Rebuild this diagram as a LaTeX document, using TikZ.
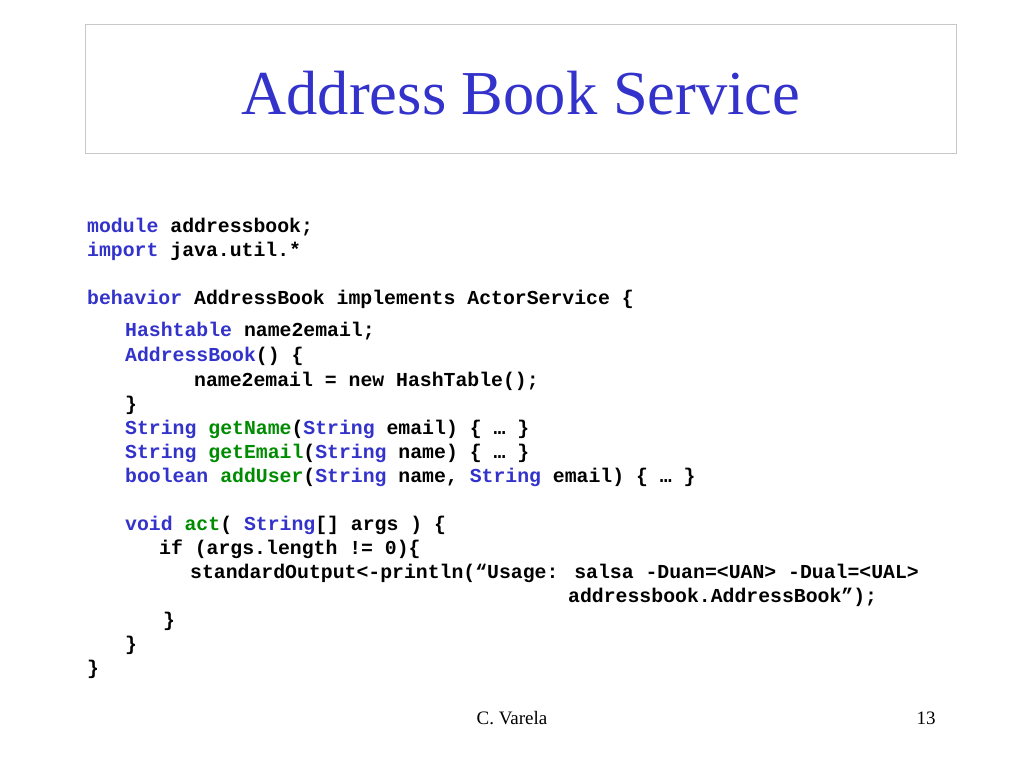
\documentclass[tikz,border=0pt]{standalone}
\usepackage{fontspec}
\setmainfont{Liberation Serif}
\newfontfamily\codefont{Liberation Mono}
\definecolor{kw}{RGB}{51,51,204}
\definecolor{gr}{RGB}{0,140,0}
\definecolor{boxgray}{RGB}{200,200,200}
\newcommand{\K}[1]{\textcolor{kw}{#1}}
\newcommand{\G}[1]{\textcolor{gr}{#1}}
\begin{document}
\begin{tikzpicture}[x=1pt,y=-1pt,
  code/.style={anchor=base west,inner sep=0pt,font=\codefont\bfseries\fontsize{19.8}{24}\selectfont}]
\useasboundingbox (0,0) rectangle (1024,768);
\fill[white] (0,0) rectangle (1024,768);
\draw[boxgray,line width=1pt] (85,25) rectangle (956,153);
\node[text=kw,font=\fontsize{62.5}{68}\selectfont,inner sep=0pt] (title) at (521,93) {Address Book Service};
\node[code] (l1) at (87,232) {\K{module} addressbook;};
\node[code] (l2) at (87,256) {\K{import} java.util.*};
\node[code] (l3) at (87,304) {\K{behavior} AddressBook implements ActorService \{};
\node[code] (l4) at (125,336) {\K{Hashtable} name2email;};
\node[code] (l5) at (125,361) {\K{AddressBook}() \{};
\node[code] (l6) at (194,386) {name2email = new HashTable();};
\node[code] (l7) at (125,410) {\}};
\node[code] (l8) at (125,434) {\K{String} \G{getName}(\K{String} email) \{ … \}};
\node[code] (l9) at (125,458) {\K{String} \G{getEmail}(\K{String} name) \{ … \}};
\node[code] (l10) at (125,482) {\K{boolean} \G{addUser}(\K{String} name, \K{String} email) \{ … \}};
\node[code] (l11) at (125,530) {\K{void} \G{act}( \K{String}[] args ) \{};
\node[code] (l12) at (159,554) {if (args.length != 0)\{};
\node[code] (l13) at (190,578) {standardOutput<-println(“Usage: salsa -Duan=<UAN> -Dual=<UAL>};
\node[code] (l14) at (568,602) {addressbook.AddressBook”);};
\node[code] (l15) at (163,626) {\}};
\node[code] (l16) at (125,650) {\}};
\node[code] (l17) at (87,674) {\}};
\node[font=\fontsize{19}{22}\selectfont,inner sep=0pt] (author) at (512,718) {C. Varela};
\node[font=\fontsize{19}{22}\selectfont,inner sep=0pt] (page) at (926,718) {13};
\end{tikzpicture}
\end{document}
